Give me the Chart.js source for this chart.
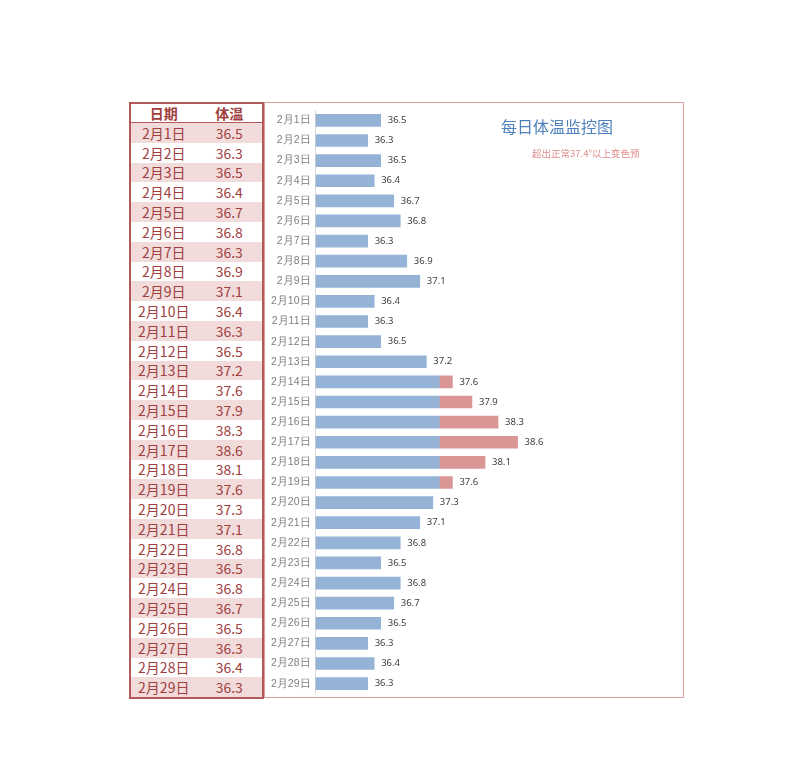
<!DOCTYPE html>
<html>
<head>
<meta charset="utf-8">
<script src="https://cdn.jsdelivr.net/npm/chart.js@4/dist/chart.umd.min.js"></script>
<style>
  body { margin: 0; background: #fff; font-family: "Noto Sans CJK SC", "Noto Sans", sans-serif; }
  #page { position: relative; width: 800px; height: 782px; }
  #tbl { position: absolute; left: 129px; top: 102px; width: 135px; table-layout: fixed;
         border: 2px solid #b4595a; box-sizing: border-box; border-collapse: collapse; }
  #tbl td, #tbl th { text-align: center; color: #a0403f; font-size: 14px; padding: 0; line-height: 1; width: 50%; }
  #tbl td { height: 19.8px; }
  #tbl th { font-weight: bold; height: 18px; border-bottom: 1px solid #b4595a; }
  #tbl tr.pink td { background: #f2dcdb; }
  #box { position: absolute; left: 264px; top: 102px; width: 420px; height: 596px;
         border: 1.5px solid #df9d9d; box-sizing: border-box; }
  #title { position: absolute; left: 501px; top: 114px; font-size: 16px; color: #4f81bd; }
  #sub { position: absolute; left: 532px; top: 146px; font-size: 9.5px; color: #e08c8c; }
  #chartWrap { position: absolute; left: 264px; top: 99px; width: 420px; height: 606px; }
</style>
</head>
<body>
<div id="page">
  <table id="tbl"><thead><tr><th>日期</th><th>体温</th></tr></thead><tbody></tbody></table>
  <div id="box"></div>
  <div id="chartWrap"><canvas id="chart"></canvas></div>
  <div id="title">每日体温监控图</div>
  <div id="sub">超出正常37.4°以上变色预</div>
</div>
<script>
// Daily temperature data
const dates = ['2月1日', '2月2日', '2月3日', '2月4日', '2月5日', '2月6日', '2月7日', '2月8日', '2月9日', '2月10日',
  '2月11日', '2月12日', '2月13日', '2月14日', '2月15日', '2月16日', '2月17日', '2月18日', '2月19日', '2月20日',
  '2月21日', '2月22日', '2月23日', '2月24日', '2月25日', '2月26日', '2月27日', '2月28日', '2月29日'];
const temps = [36.5, 36.3, 36.5, 36.4, 36.7, 36.8, 36.3, 36.9, 37.1, 36.4,
  36.3, 36.5, 37.2, 37.6, 37.9, 38.3, 38.6, 38.1, 37.6, 37.3,
  37.1, 36.8, 36.5, 36.8, 36.7, 36.5, 36.3, 36.4, 36.3];
const threshold = 37.4;
const axisMin = 35.5;
const axisMax = 41;

// Fill the table
const tbody = document.querySelector('#tbl tbody');
dates.forEach((d, i) => {
  const tr = document.createElement('tr');
  if (i % 2 === 0) tr.className = 'pink';
  tr.innerHTML = `<td>${d}</td><td>${temps[i].toFixed(1)}</td>`;
  tbody.appendChild(tr);
});

// Split each value into normal part and the part above threshold
const normalPart = temps.map(v => [axisMin, Math.min(v, threshold)]);
const overPart = temps.map(v => v > threshold ? [threshold, v] : null);

const valueLabels = {
  id: 'valueLabels',
  afterDatasetsDraw(chart) {
    const ctx = chart.ctx;
    const xScale = chart.scales.x;
    const metaY = chart.getDatasetMeta(0);
    ctx.save();
    ctx.font = '9.5px "Noto Sans", sans-serif';
    ctx.fillStyle = '#404040';
    ctx.textBaseline = 'middle';
    temps.forEach((v, i) => {
      const x = xScale.getPixelForValue(v);
      ctx.fillText(v.toFixed(1), x + 7, metaY.data[i].y);
    });
    ctx.restore();
  }
};

new Chart(document.getElementById('chart'), {
  type: 'bar',
  data: {
    labels: dates,
    datasets: [
      { data: normalPart, backgroundColor: '#95b3d7', barThickness: 12, grouped: false },
      { data: overPart, backgroundColor: '#da9694', barThickness: 12, grouped: false }
    ]
  },
  options: {
    indexAxis: 'y',
    responsive: true,
    maintainAspectRatio: false,
    animation: false,
    layout: { padding: { left: 2, right: 10, top: 0, bottom: 0 } },
    scales: {
      x: { display: false, min: axisMin, max: axisMax },
      y: {
        grid: { display: false, drawTicks: false },
        border: { color: '#d9d9d9' },
        ticks: { color: '#7f7f7f', font: { size: 10.5 }, padding: 5 }
      }
    },
    plugins: { legend: { display: false }, tooltip: { enabled: false } }
  },
  plugins: [valueLabels]
});
</script>
</body>
</html>
